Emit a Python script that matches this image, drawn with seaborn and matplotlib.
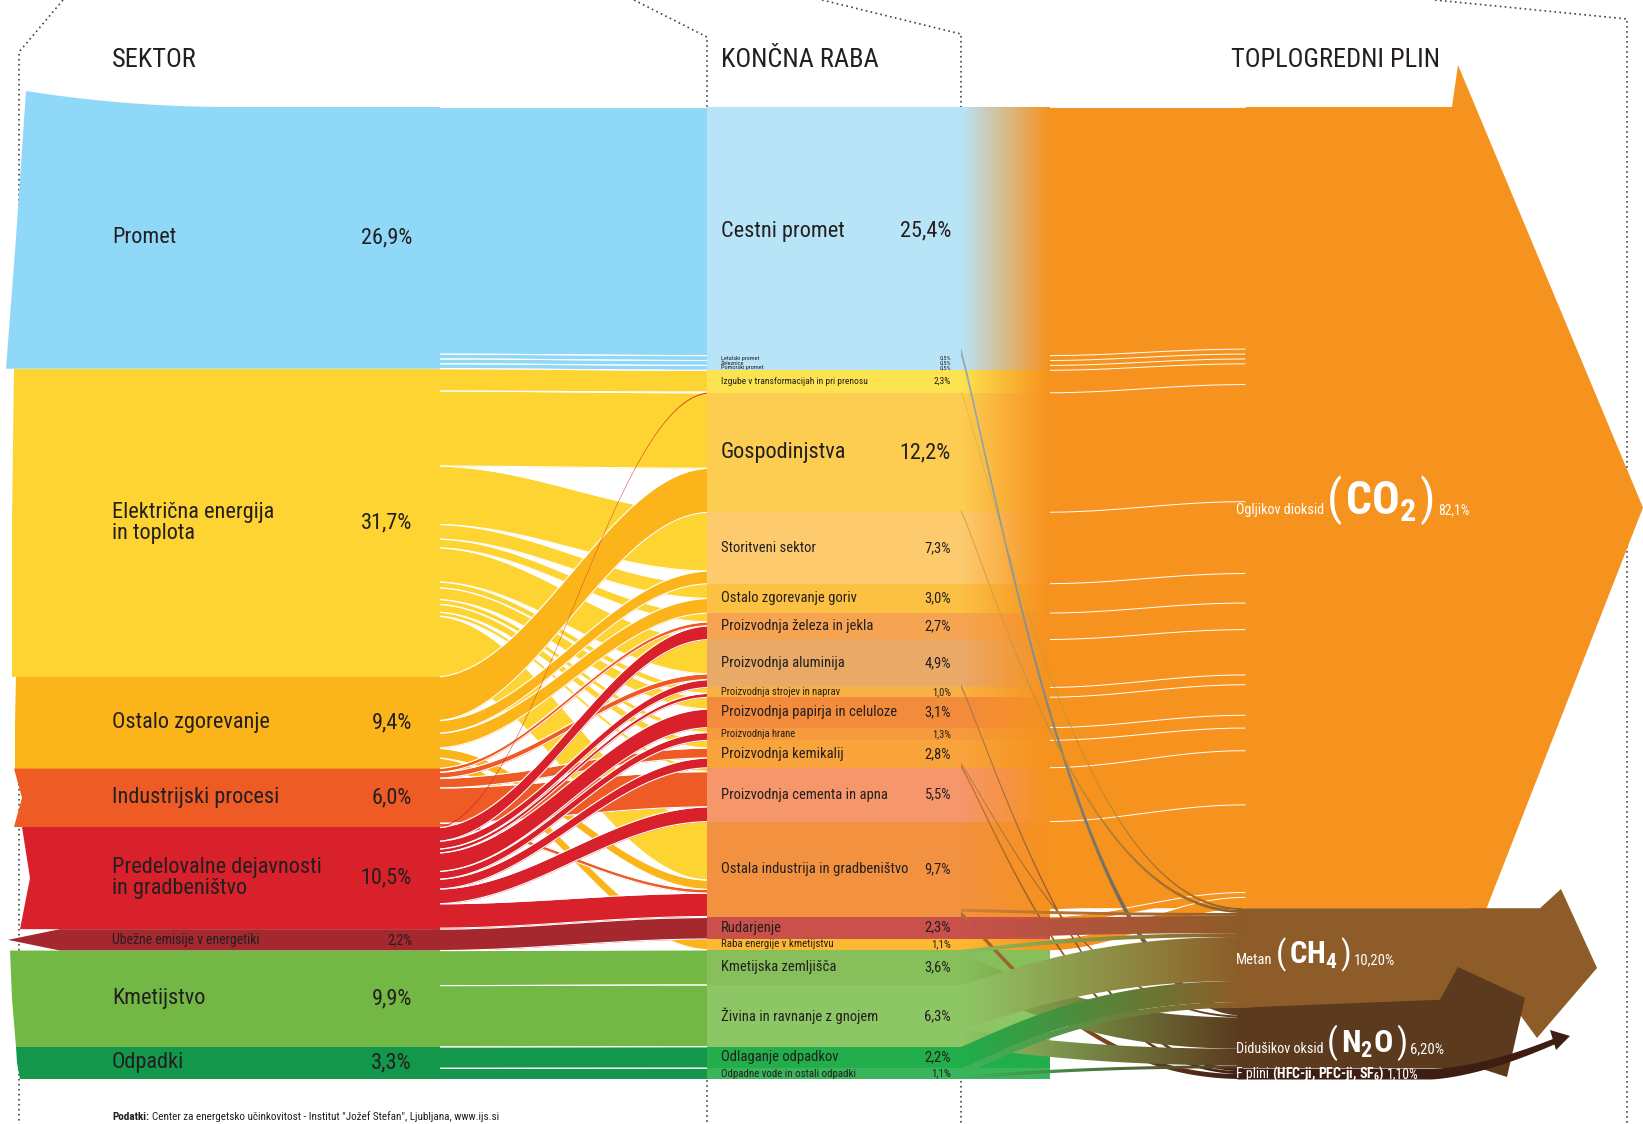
import numpy as np
import matplotlib
matplotlib.use("Agg")
import matplotlib.pyplot as plt
from matplotlib import font_manager
from matplotlib.patches import Polygon
import seaborn as sns

sns.set_theme(style="white")

# ozka pisava, ce je na voljo
vpisi = font_manager.fontManager.ttflist
PISAVA, RAZTEG = "Roboto", "normal"
for ime in ["Liberation Sans Narrow", "Roboto Condensed", "Open Sans Condensed", "Noto Sans Condensed"]:
    if any(f.name == ime for f in vpisi):
        PISAVA = ime
        break
else:
    for ime in ["Noto Sans", "Open Sans", "DejaVu Sans"]:
        zadetek = [f for f in vpisi if f.name == ime and f.stretch in ("condensed", "semi-condensed")]
        if zadetek:
            PISAVA, RAZTEG = ime, zadetek[0].stretch
            break

plt.rcParams["font.family"] = [PISAVA, "DejaVu Sans"]
plt.rcParams["font.stretch"] = RAZTEG
plt.rcParams["mathtext.fontset"] = "custom"
plt.rcParams["mathtext.rm"] = f"{PISAVA}:weight=bold:stretch={RAZTEG}"
plt.rcParams["mathtext.bf"] = f"{PISAVA}:weight=bold:stretch={RAZTEG}"

# ---------------- podatki ----------------
sektorji = ["Promet", "Električna energija\nin toplota", "Ostalo zgorevanje",
            "Industrijski procesi", "Predelovalne dejavnosti\nin gradbeništvo",
            "Ubežne emisije v energetiki", "Kmetijstvo", "Odpadki"]
sektor_delez = [26.9, 31.7, 9.4, 6.0, 10.5, 2.2, 9.9, 3.3]
sektor_barve = ["#8fd8f7", "#fdd431", "#fbb51b", "#ef5b25", "#d8212a",
                "#a4282e", "#73b744", "#13974a"]

rabe = ["Cestni promet", "Letalski promet", "Železnice", "Pomorski promet",
        "Izgube v transformacijah in pri prenosu", "Gospodinjstva",
        "Storitveni sektor", "Ostalo zgorevanje goriv",
        "Proizvodnja železa in jekla", "Proizvodnja aluminija",
        "Proizvodnja strojev in naprav", "Proizvodnja papirja in celuloze",
        "Proizvodnja hrane", "Proizvodnja kemikalij",
        "Proizvodnja cementa in apna", "Ostala industrija in gradbeništvo",
        "Rudarjenje", "Raba energije v kmetijstvu", "Kmetijska zemljišča",
        "Živina in ravnanje z gnojem", "Odlaganje odpadkov",
        "Odpadne vode in ostali odpadki"]
raba_delez = [25.4, 0.5, 0.5, 0.5, 2.3, 12.2, 7.3, 3.0, 2.7, 4.9, 1.0, 3.1,
              1.3, 2.8, 5.5, 9.7, 2.3, 1.1, 3.6, 6.3, 2.2, 1.1]
raba_barve = ["#b8e4f8", "#b8e4f8", "#b8e4f8", "#b8e4f8", "#fde34f",
              "#fdcd52", "#fdcb6e", "#fcc043", "#f7a452", "#e9a967",
              "#f9b144", "#f38b3c", "#f59b3e", "#f9a43b", "#f6966b",
              "#f2913f", "#c9504b", "#fdb933", "#87c05b", "#8dc665",
              "#21ae4b", "#3bb55c"]

plini = ["CO2", "CH4", "N2O", "F plini"]
plin_delez = [82.1, 10.2, 6.2, 1.1]
plin_barve = ["#f6921e", "#8e5c28", "#5b3a1e", "#3e1e12"]

# sektor -> koncna raba (indeks sektorja, indeks rabe, delez)
tok_levo = [(0, 0, 25.4), (0, 1, 0.5), (0, 2, 0.5), (0, 3, 0.5),
            (1, 4, 2.3), (1, 5, 7.7), (1, 6, 6.0), (1, 7, 1.5), (1, 8, 0.9),
            (1, 9, 3.5), (1, 10, 0.6), (1, 11, 1.2), (1, 12, 0.5), (1, 13, 0.8),
            (1, 14, 0.4), (1, 15, 6.3),
            (2, 5, 4.5), (2, 6, 1.3), (2, 7, 1.5), (2, 15, 1.0), (2, 17, 1.1),
            (3, 8, 0.4), (3, 9, 0.6), (3, 13, 1.0), (3, 14, 3.6), (3, 15, 0.4),
            (4, 4, 0.1), (4, 8, 1.4), (4, 9, 0.8), (4, 10, 0.4), (4, 11, 1.9),
            (4, 12, 0.8), (4, 13, 1.0), (4, 14, 1.5), (4, 15, 2.5), (4, 16, 0.1),
            (5, 16, 2.2), (6, 18, 3.6), (6, 19, 6.3), (7, 20, 2.2), (7, 21, 1.1)]

# koncna raba -> plin (indeks rabe, indeks plina, delez)
tok_desno = [(0, 0, 24.6), (0, 2, 0.8), (1, 0, 0.5), (2, 0, 0.5), (3, 0, 0.5),
             (4, 0, 2.1), (4, 1, 0.2), (5, 0, 11.9), (5, 1, 0.3), (6, 0, 7.3),
             (7, 0, 3.0), (8, 0, 2.7), (9, 0, 4.6), (9, 3, 0.3), (10, 0, 1.0),
             (11, 0, 3.1), (12, 0, 1.3), (13, 0, 2.3), (13, 2, 0.2), (13, 3, 0.3),
             (14, 0, 5.5), (15, 0, 8.9), (15, 1, 0.3), (15, 3, 0.5),
             (16, 0, 0.5), (16, 1, 1.8), (17, 0, 1.1), (18, 1, 0.4), (18, 2, 3.2),
             (19, 1, 4.6), (19, 2, 1.7), (20, 1, 2.2), (21, 1, 0.6), (21, 2, 0.3)]

# ---------------- postavitev (v pikslih) ----------------
SIR, VIS = 1643, 1124
Y0, H = 107, 972
X_PAS, X_SRED0, X_SRED1, X_PREL, X_PLIN = 440, 707, 961, 1050, 1240
TEMNO = "#231f20"

fig = plt.figure(figsize=(SIR / 100, VIS / 100), dpi=100)
ax = fig.add_axes([0, 0, 1, 1])
ax.axis("off")
ax.set_xlim(0, SIR)
ax.set_ylim(VIS, 0)
rend = fig.canvas.get_renderer()


def meje(vrednosti):
    k = H / sum(vrednosti)
    return Y0 + k * np.concatenate([[0], np.cumsum(vrednosti)])


def krivulja(x0, x1, a0, b0, a1, b1, n=80, nagib=1.0):
    t = np.linspace(0, 1, n)
    s = (1 - np.cos(np.pi * t ** nagib)) / 2
    return x0 + (x1 - x0) * t, a0 + (a1 - a0) * s, b0 + (b1 - b0) * s


def razporedi(tokovi, meje_od, meje_do):
    vsota_od, vsota_do = {}, {}
    for i, j, v in tokovi:
        vsota_od[i] = vsota_od.get(i, 0) + v
        vsota_do[j] = vsota_do.get(j, 0) + v
    polozaj, kurzor = {}, {}
    for i, j, v in sorted(tokovi, key=lambda f: (f[0], f[1])):
        y = kurzor.get(i, meje_od[i])
        d = v / vsota_od[i] * (meje_od[i + 1] - meje_od[i])
        polozaj[(i, j)] = [y, y + d]
        kurzor[i] = y + d
    kurzor = {}
    for i, j, v in sorted(tokovi, key=lambda f: (f[1], f[0])):
        y = kurzor.get(j, meje_do[j])
        d = v / vsota_do[j] * (meje_do[j + 1] - meje_do[j])
        polozaj[(i, j)] += [y, y + d]
        kurzor[j] = y + d
    return polozaj


def preliv(verts, c0, c1, x0, x1, z):
    poly = Polygon(verts, closed=True, fc="none", ec="none")
    ax.add_patch(poly)
    barve = np.array(sns.blend_palette([c0, c1], n_colors=100))[None, :, :3]
    ymin, ymax = verts[:, 1].min(), verts[:, 1].max()
    im = ax.imshow(barve, extent=(x0, x1, ymax, ymin), aspect="auto",
                   interpolation="bilinear", zorder=z)
    im.set_clip_path(poly)


def odstotek(v):
    return f"{v:.1f}".replace(".", ",") + "%"


def oznaka(x_l, x_d, y, levo, desno, vel):
    t1 = ax.text(x_l, y, levo, fontsize=vel, color=TEMNO, va="center",
                 linespacing=0.95, zorder=10)
    t2 = ax.text(x_d, y, desno, fontsize=vel, color=TEMNO, va="center",
                 ha="right", zorder=10)
    while (t1.get_window_extent(rend).x1 > t2.get_window_extent(rend).x0 - 6
           and vel > 3):
        vel -= 0.25
        t1.set_fontsize(vel)
        t2.set_fontsize(vel)


m_s = meje(sektor_delez)
m_r = meje(raba_delez)
m_p = meje(plin_delez)

# ---------------- sektorji ----------------
levi_rob = [(26, 16, 6), (14, 12, 12), (16, 15, 15), (14, 22, 14), (22, 30, 20),
            (60, 8, 60), (10, 12, 16), (16, 17, 20)]
vel_sektor = [16, 16, 16, 16, 16, 10, 16, 16]
for i, (ime, v) in enumerate(zip(sektorji, sektor_delez)):
    y0, y1 = m_s[i], m_s[i + 1]
    xt, xm, xb = levi_rob[i]
    if i == 0:
        xs = np.linspace(xt, 230, 30)
        vrh = list(zip(xs, y0 - 16 * (1 - (xs - xt) / (230 - xt)) ** 2))
    else:
        vrh = [(xt, y0)]
    pts = vrh + [(X_PAS, y0), (X_PAS, y1), (xb, y1), (xm, (y0 + y1) / 2)]
    ax.add_patch(Polygon(pts, closed=True, fc=sektor_barve[i], ec="none", zorder=2.5))
    oznaka(112, 412, (y0 + y1) / 2, ime, odstotek(v), vel_sektor[i])

# tokovi sektor -> raba
pol_l = razporedi(tok_levo, m_s, m_r)
for i, j, v in tok_levo:
    a0, b0, a1, b1 = pol_l[(i, j)]
    x, zg, sp = krivulja(X_PAS - 8, X_SRED0 + 4, a0, b0, a1, b1)
    ax.fill_between(x, zg, sp, color=sektor_barve[i], lw=0, zorder=2)
    if v >= 0.3:
        ax.plot(x, zg, color="white", lw=0.8, zorder=2)
        ax.plot(x, sp, color="white", lw=0.8, zorder=2)

# ---------------- koncna raba ----------------
vel_rabe = [16, 4.5, 4.5, 4.5, 6.8, 16, 10.5, 10.5, 10.5, 10.5, 7.6, 10.5, 7.6,
            10.5, 10.5, 10.5, 10.5, 7.8, 10.5, 10.5, 10.5, 7.8]
glavni_plin = {}
for i, g, v in tok_desno:
    if v > glavni_plin.get(i, (None, 0))[1]:
        glavni_plin[i] = (g, v)

for j, (ime, v) in enumerate(zip(rabe, raba_delez)):
    y0, y1 = m_r[j], m_r[j + 1]
    ax.fill_between([X_SRED0, X_SRED1], y0, y1, color=raba_barve[j], lw=0, zorder=3)
    oznaka(721, 951, (y0 + y1) / 2, ime, odstotek(v), vel_rabe[j])
    cilj = plin_barve[0] if glavni_plin[j][0] == 0 else raba_barve[j]
    verts = np.array([(X_SRED1, y0), (X_PREL, y0), (X_PREL, y1), (X_SRED1, y1)])
    preliv(verts, raba_barve[j], cilj, X_SRED1, X_PREL, 3)

# ---------------- plini ----------------
top, bot = m_p[0], m_p[1]
ax.add_patch(Polygon([(X_PREL - 5, top), (1452, top), (1458, 65), (1643, (top + bot) / 2),
                      (1478, bot + 22), (1470, bot), (X_PREL - 5, bot)],
                     closed=True, fc=plin_barve[0], ec="none", zorder=1.5))
top, bot = m_p[1], m_p[2]
ax.add_patch(Polygon([(X_PLIN - 3, top), (1540, top), (1561, 889), (1597, 968),
                      (1537, 1038), (1515, bot), (X_PLIN - 3, bot)],
                     closed=True, fc=plin_barve[1], ec="none", zorder=1.6))
top, bot = m_p[2], m_p[3]
ax.add_patch(Polygon([(X_PLIN - 3, top), (1440, top - 8), (1458, 967), (1525, 998),
                      (1507, 1077), (1480, bot), (X_PLIN - 3, bot)],
                     closed=True, fc=plin_barve[2], ec="none", zorder=1.7))
top, bot = m_p[3], m_p[4]
xf = np.linspace(X_PLIN - 3, 1556, 120)
u = np.clip((xf - 1430) / (1556 - 1430), 0, 1)
sred = (top + bot) / 2 + (1040 - (top + bot) / 2) * u ** 1.6
pol = (bot - top) / 2 + (3 - (bot - top) / 2) * u
ax.fill_between(xf, sred - pol, sred + pol, color=plin_barve[3], lw=0, zorder=1.8)
ax.add_patch(Polygon([(1550, 1030), (1570, 1036), (1556, 1050)], closed=True,
                     fc=plin_barve[3], ec="none", zorder=1.8))

# tokovi raba -> plin
pol_d = razporedi(tok_desno, m_r, m_p)
for i, g, v in tok_desno:
    a0, b0, a1, b1 = pol_d[(i, g)]
    if g == 0:
        x, zg, sp = krivulja(X_PREL - 5, X_PLIN + 5, a0, b0, a1, b1)
        ax.fill_between(x, zg, sp, color=plin_barve[0], lw=0, zorder=2.6)
        ax.plot(x, zg, color="white", lw=0.7, zorder=2.65)
    else:
        x, zg, sp = krivulja(X_SRED1, X_PLIN + 3, a0, b0, a1, b1, nagib=0.55)
        verts = np.column_stack([np.r_[x, x[::-1]], np.r_[zg, sp[::-1]]])
        if glavni_plin[i][0] == 0:
            zacetek = sns.blend_palette([raba_barve[i], plin_barve[g]], n_colors=10)[3]
        else:
            zacetek = raba_barve[i]
        preliv(verts, zacetek, plin_barve[g], X_SRED1, X_PLIN + 3, 3.2)


def napis(x, y, deli):
    for besedilo, velikost, debelina in deli:
        tx = ax.text(x, y, besedilo, fontsize=velikost, fontweight=debelina,
                     color="white", va="baseline", zorder=10)
        x += tx.get_window_extent(renderer=rend).width + 3


napis(1236, 514, [("Ogljikov dioksid", 10.2, "normal"), ("(", 35, "normal"),
                  ("CO$_2$", 33, "bold"), (")", 35, "normal"), ("82,1%", 9.8, "normal")])
napis(1236, 964, [("Metan", 10.5, "normal"), ("(", 24, "normal"),
                  ("CH$_4$", 22, "bold"), (")", 24, "normal"), ("10,20%", 10.5, "normal")])
napis(1236, 1053, [("Didušikov oksid", 10.2, "normal"), ("(", 25, "normal"),
                   ("N$_2$O", 23, "bold"), (")", 25, "normal"), ("6,20%", 10.5, "normal")])
napis(1236, 1078, [("F plini", 10, "normal"), ("(HFC-ji, PFC-ji, SF$_6$)", 10, "bold"),
                   ("1,10%", 10, "normal")])

# ---------------- naslovi, okvir, vir ----------------
for besedilo, x in [("SEKTOR", 112), ("KONČNA RABA", 721), ("TOPLOGREDNI PLIN", 1231)]:
    ax.text(x, 60, besedilo, fontsize=19, color=TEMNO, va="center", zorder=10)

okvir = [[(63, 0), (19, 52), (19, 1124)],
         [(634, 0), (707, 37), (707, 1124)],
         [(822, 0), (961, 34), (961, 1124)],
         [(1435, 0), (1627, 19), (1627, 1124)]]
for crta in okvir:
    xs, ys = zip(*crta)
    ax.plot(xs, ys, color="#444444", lw=1.2, ls=(0, (1, 2)), zorder=0.5)

tv = ax.text(112, 1117, "Podatki:", fontsize=8, fontweight="bold", color=TEMNO,
             va="center", zorder=10)
ax.text(112 + tv.get_window_extent(renderer=rend).width + 3, 1117,
        "Center za energetsko učinkovitost - Institut \"Jožef Stefan\", Ljubljana, www.ijs.si",
        fontsize=8, color=TEMNO, va="center", zorder=10)

ax.set_xlim(0, SIR)
ax.set_ylim(VIS, 0)
fig.savefig("out.png", dpi=100, facecolor="white")
